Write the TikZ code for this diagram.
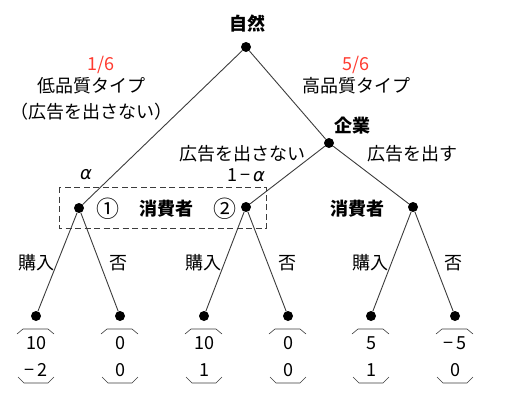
\documentclass[tikz,border=0pt]{standalone}
\usepackage{fontspec}
\setmainfont{Noto Sans CJK JP}
\newfontfamily\griech{DejaVu Sans}
\definecolor{astgrau}{RGB}{60,60,60}
\definecolor{wahrsch}{RGB}{255,59,48}
\usetikzlibrary{arrows}
\newcommand{\alf}{{\griech\itshape α}}

\begin{document}
\begin{tikzpicture}[x=1pt, y=-1pt,
			punkt/.style={circle, fill=black, inner sep=0pt, minimum size=10pt},
			ast/.style={draw=astgrau, line width=0.9pt},
			fett/.style={font=\fontsize{18}{21}\selectfont\bfseries},
			kreis/.style={font=\fontsize{23}{26}\selectfont},
			klammer/.style={draw=astgrau, line width=0.6pt},
			font=\fontsize{18}{21}\selectfont]
			%Bildbereich
			\useasboundingbox (0,0) rectangle (508,400);
			% Knoten zeichnen
			\node[punkt] (natur) at (246,47) {};
			\node[punkt] (firma) at (329,143) {};
			\node[punkt] (kons1) at (79,208) {};
			\node[punkt] (kons2) at (246,207) {};
			\node[punkt] (kons3) at (413,207) {};
			\foreach \n/\x in {1/36,2/120,3/204,4/288,5/371,6/455}
				\node[punkt] (blatt\n) at (\x,316) {};
			% Kanten zeichnen
			\draw[ast] (natur) -- (kons1);
			\draw[ast] (natur) -- (firma);
			\draw[ast] (firma) -- (kons2);
			\draw[ast] (firma) -- (kons3);
			\draw[ast] (kons1) -- (blatt1);
			\draw[ast] (kons1) -- (blatt2);
			\draw[ast] (kons2) -- (blatt3);
			\draw[ast] (kons2) -- (blatt4);
			\draw[ast] (kons3) -- (blatt5);
			\draw[ast] (kons3) -- (blatt6);
			% Informationsmenge
			\draw[astgrau, line width=1pt, dash pattern=on 6pt off 3.5pt] (59,187) rectangle (266,228);
			% Beschriftung
			\node[fett] (naturtext) at (247,24) {自然};
			\node[fett] (firmatext) at (352,126) {企業};
			\node[text=wahrsch] (p1) at (101,65) {1/6};
			\node[text=wahrsch] (p2) at (356,65) {5/6};
			\node (typ1) at (91,86) {低品質タイプ};
			\node (typ1b) at (91,112) {（広告を出さない）};
			\node (typ2) at (356,86) {高品質タイプ};
			\node (nein) at (242,154) {広告を出さない};
			\node (ja) at (412,154) {広告を出す};
			\node (alpha) at (86,175) {\alf};
			\node (einsalpha) at (246,175) {1\,−\,\alf};
			\node[kreis] (nr1) at (108,209) {①};
			\node[fett] (konstext1) at (166,209) {消費者};
			\node[kreis] (nr2) at (225,209) {②};
			\node[fett] (konstext2) at (357,209) {消費者};
			\foreach \n/\x in {1/36,2/203,3/370}
				\node (kauf\n) at (\x,263) {購入};
			\foreach \n/\x in {1/118,2/287,3/453}
				\node (kein\n) at (\x,263) {否};
			% Auszahlungen
			\foreach \n/\x/\a/\b in {1/36/10/−\,2,2/120/0/0,3/204/10/1,4/288/0/0,5/371/5/1,6/455/−\,5/0}{
				\draw[klammer] (\x-19,334) -- (\x-13,329) -- (\x+12,329) -- (\x+18,334);
				\node (oben\n) at (\x,343) {\a};
				\node (unten\n) at (\x,370) {\b};
				\draw[klammer] (\x-18,377) -- (\x-12,383) -- (\x+12,383) -- (\x+18,377);
			}
		\end{tikzpicture}
\end{document}
